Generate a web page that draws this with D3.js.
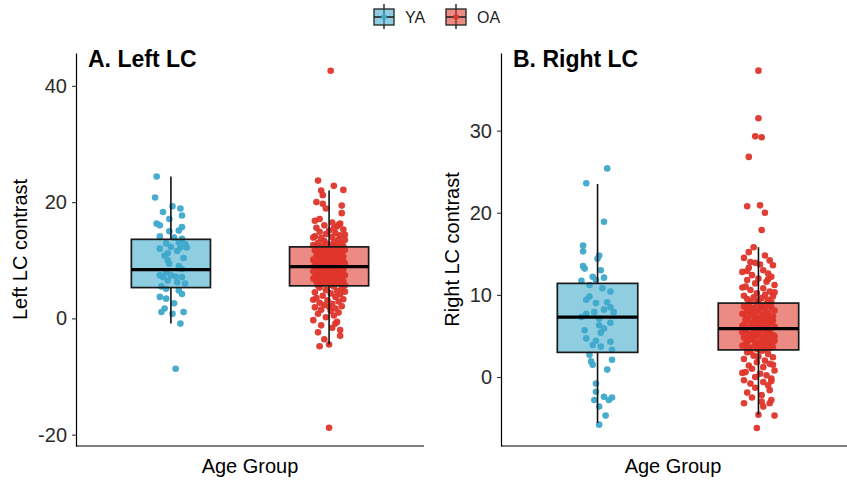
<!DOCTYPE html>
<html>
<head>
<meta charset="utf-8">
<script src="https://cdn.jsdelivr.net/npm/d3@7"></script>
<style>
body { margin: 0; background: #fff; }
text { font-family: "Liberation Sans", Arial, sans-serif; }
</style>
</head>
<body>
<svg width="847" height="480"></svg>
<script>
// groups and colours
var groups = ["YA", "OA"];
var pointColor = {YA: "#3ea8cc", OA: "#de352b"};

// box stats [lowWhisker, q1, median, q3, highWhisker]
var leftBox = {YA: [-0.9, 5.3, 8.4, 13.6, 24.4], OA: [-4.5, 5.6, 8.9, 12.3, 22.0]};
var rightBox = {YA: [-5.6, 3.0, 7.3, 11.4, 23.5], OA: [-4.6, 3.3, 5.9, 9.0, 15.8]};

// points [value, jitter]
var leftYA = [[24.4,-0.09],[20.8,-0.10],[19.3,0.01],[18.9,0.06],[18.3,-0.05],[17.7,0.07],[17.1,-0.01],[16.3,-0.09],[16.0,-0.07],[15.7,0.07],[15.1,0.05],[15.0,-0.01],[14.1,-0.07],[13.9,0.02],[13.7,0.07],[13.1,0.05],[12.8,0.09],[12.9,-0.03],[12.0,-0.07],[12.3,0.00],[12.2,0.06],[12.2,0.10],[11.6,0.04],[11.2,-0.02],[10.8,-0.04],[10.4,0.08],[10.0,-0.02],[9.4,-0.01],[9.0,0.05],[8.5,0.07],[7.9,-0.03],[7.4,-0.07],[7.1,-0.05],[7.4,0.00],[7.2,0.03],[7.1,0.07],[6.5,-0.02],[6.2,0.04],[6.0,0.09],[5.5,-0.06],[5.1,-0.03],[4.8,0.05],[4.2,0.07],[3.7,-0.07],[3.4,-0.03],[2.6,0.02],[1.7,-0.04],[1.1,-0.06],[0.8,0.01],[1.1,0.08],[-0.9,0.06],[-8.65,0.03]];

var leftOA = [[42.6,0.01],[23.7,-0.07],[22.8,0.03],[22.1,0.09],[22.0,-0.05],[21.2,-0.04],[20.0,-0.08],[19.7,-0.04],[19.4,0.08],[18.9,-0.02],[18.1,0.08],[17.1,-0.06],[16.3,0.07],
[16.8,-0.09],[16.5,0.02],[16.0,-0.03],[15.8,0.05],[15.6,-0.08],[15.3,0.09],[15.1,0.00],[14.9,-0.06],[14.7,0.04],[14.5,-0.02],[14.3,0.07],[14.1,-0.09],[14.0,0.02],[13.8,-0.05],[13.6,0.06],[13.5,0.10],[13.3,-0.03],[13.2,0.03],[13.0,-0.07],[12.9,0.08],[12.8,-0.01],[12.7,0.05],[12.6,-0.10],[12.5,0.01],[12.4,0.09],[12.4,-0.04],[12.3,0.04],[12.3,-0.08],[15.5,0.03],[14.4,0.10],[13.9,-0.10],[16.1,0.06],
[12.2,-0.06],[12.1,0.02],[12.0,0.07],[11.9,-0.02],[11.8,0.10],[11.7,-0.09],[11.6,0.04],[11.5,-0.04],[11.4,0.08],[11.3,-0.07],[11.2,0.00],[11.1,0.06],[11.0,-0.03],[10.9,0.03],[10.8,-0.08],[10.7,0.09],[10.6,-0.01],[10.5,0.05],[10.4,-0.05],[10.3,0.01],[10.2,0.08],[10.1,-0.10],[10.0,0.04],[9.9,-0.02],[9.8,0.07],[9.7,-0.07],[9.6,0.02],[9.5,-0.04],[9.4,0.10],[9.3,-0.09],[9.2,0.05],[9.1,-0.01],[9.0,0.03],[8.95,-0.06],[11.45,0.01],[10.65,-0.06],[9.85,0.09],[10.25,0.06],[11.85,-0.05],[9.25,-0.03],
[8.8,0.06],[8.7,-0.08],[8.6,0.01],[8.5,-0.03],[8.4,0.09],[8.3,-0.05],[8.2,0.04],[8.1,-0.10],[8.0,0.02],[7.9,0.07],[7.8,-0.02],[7.7,0.05],[7.6,-0.07],[7.5,0.00],[7.4,0.10],[7.3,-0.04],[7.2,0.03],[7.1,-0.09],[7.0,0.06],[6.9,-0.01],[6.8,0.08],[6.7,-0.06],[6.6,0.02],[6.5,-0.03],[6.4,0.09],[6.3,-0.08],[6.2,0.04],[6.1,-0.02],[6.0,0.07],[5.9,-0.05],[5.8,0.01],[5.7,0.10],[5.65,-0.07],[8.45,-0.01],[7.65,0.08],[6.85,-0.10],[7.95,-0.06],[6.15,0.06],[8.15,0.03],[7.25,-0.08],
[5.5,0.03],[5.3,-0.06],[5.1,0.08],[4.9,-0.02],[4.7,0.05],[4.5,-0.09],[4.3,0.01],[4.1,0.07],[3.9,-0.04],[3.7,0.04],[3.5,-0.08],[3.3,0.09],[3.1,-0.01],[2.9,0.06],[2.7,-0.06],[2.5,0.02],[2.3,-0.03],[2.1,0.08],[1.9,-0.09],[1.7,0.04],[1.5,-0.05],[1.3,0.01],[1.0,0.06],[0.8,-0.07],[0.5,0.03],[0.2,-0.02],[-0.3,-0.10],[-0.6,0.05],[-0.9,0.04],[-1.2,-0.05],[-1.6,0.02],[-2.0,0.07],[-2.4,-0.07],[-3.0,0.07],[-3.6,-0.03],[-4.5,0.00],[-4.8,-0.06],[4.6,0.10],[3.2,-0.10],[2.0,0.00],[-18.8,0.0]];

var rightYA = [[25.4,0.06],[23.6,-0.07],[18.9,0.04],[16.0,-0.09],[15.3,-0.09],[14.8,0.01],[14.4,0.00],[13.5,-0.09],[13.2,-0.08],[13.0,0.02],[12.2,-0.03],[12.1,0.04],[11.7,-0.10],[11.8,-0.01],[11.2,-0.05],[10.8,0.03],[10.4,0.08],[9.8,-0.05],[9.4,-0.07],[9.1,0.06],[9.0,-0.01],[8.5,0.08],[8.2,0.04],[7.9,-0.02],[7.7,-0.07],[7.3,-0.10],[7.9,0.10],[7.1,0.01],[6.6,0.08],[6.3,0.01],[5.9,0.04],[5.7,-0.08],[5.4,0.02],[4.7,-0.07],[4.4,-0.01],[4.3,0.08],[3.9,-0.03],[3.7,0.02],[3.3,0.09],[2.7,-0.05],[1.9,-0.04],[2.1,0.09],[1.5,-0.03],[0.9,0.06],[-0.8,-0.01],[-1.8,-0.01],[-2.8,-0.02],[-2.4,0.04],[-2.5,0.09],[-2.8,0.07],[-3.6,0.01],[-4.7,0.05],[-5.8,0.01]];

var rightOA = [[37.3,0.00],[31.5,0.00],[29.3,-0.02],[29.2,0.02],[26.8,-0.06],[20.8,-0.07],[20.9,0.01],[20.0,0.04],[17.9,0.02],
[15.8,-0.03],[15.2,-0.06],[14.8,0.04],[14.5,-0.09],[14.2,0.07],[13.9,-0.02],[13.6,0.09],[13.3,-0.06],[13.0,0.03],[12.8,-0.10],[12.6,0.06],[12.4,-0.04],[12.2,0.08],[12.0,0.00],[11.8,-0.07],[11.6,0.05],[11.4,-0.02],[11.2,0.10],[11.0,-0.08],[10.8,0.03],[10.6,-0.05],[10.4,0.07],[10.2,-0.01],[10.0,0.04],[9.9,-0.09],[9.8,0.09],[9.7,-0.03],[9.6,0.02],[9.5,-0.07],[9.4,0.06],[9.3,0.00],[9.2,-0.05],[9.1,0.08],[9.05,-0.01],[13.7,0.01],[12.9,-0.07],[11.9,0.06],[10.9,-0.10],[10.3,0.10],[14.0,-0.05],
[8.9,0.05],[8.8,-0.06],[8.7,0.02],[8.6,-0.09],[8.5,0.08],[8.4,-0.03],[8.3,0.04],[8.2,-0.07],[8.1,0.10],[8.0,0.00],[7.9,-0.04],[7.8,0.06],[7.7,-0.10],[7.6,0.03],[7.5,-0.02],[7.4,0.09],[7.3,-0.06],[7.2,0.01],[7.1,0.07],[7.0,-0.08],[6.9,0.04],[6.8,-0.01],[6.7,0.08],[6.6,-0.05],[6.5,0.02],[6.4,-0.09],[6.3,0.06],[6.2,-0.03],[6.1,0.10],[6.0,-0.07],[5.95,0.03],[8.45,0.01],[7.65,-0.08],[6.85,0.09],[7.35,0.05],[8.05,-0.05],[6.45,0.00],[7.05,-0.02],[8.65,0.07],[6.25,-0.10],
[5.8,0.04],[5.7,-0.08],[5.6,0.01],[5.5,0.07],[5.4,-0.03],[5.3,0.05],[5.2,-0.06],[5.1,0.09],[5.0,-0.01],[4.9,0.03],[4.8,-0.09],[4.7,0.06],[4.6,-0.04],[4.5,0.02],[4.4,0.10],[4.3,-0.07],[4.2,0.00],[4.1,0.05],[4.0,-0.02],[3.9,0.08],[3.8,-0.10],[3.7,0.03],[3.6,-0.05],[3.5,0.07],[3.4,-0.01],[3.35,0.04],[5.45,-0.10],[4.95,0.10],[4.55,-0.06],[4.05,-0.08],[3.65,0.09],[5.75,0.06],[5.25,0.00],[4.75,-0.03],[4.25,0.08],[3.85,0.01],[5.05,-0.05],[4.35,0.03],[3.45,-0.07],[5.55,-0.02],
[3.2,0.02],[3.0,-0.07],[2.8,0.06],[2.6,-0.03],[2.4,0.09],[2.2,-0.09],[2.0,0.04],[1.8,-0.01],[1.6,0.07],[1.4,-0.06],[1.2,0.03],[1.0,-0.04],[0.8,0.10],[0.6,-0.08],[0.4,0.01],[0.2,0.05],[0.0,-0.02],[-0.2,0.08],[-0.4,-0.09],[-0.6,0.03],[-0.8,-0.05],[-1.0,0.06],[-1.3,-0.02],[-1.6,0.07],[-1.9,-0.07],[-2.2,0.02],[-2.5,-0.04],[-2.8,0.08],[-3.0,0.02],[-3.2,-0.09],[-3.2,0.07],[-3.6,0.03],[-4.6,0.00],[-4.7,0.10],[-6.2,-0.01],[2.5,0.00],[1.5,0.09],[0.5,-0.10],[-0.5,0.08],[3.1,-0.05]];

var leftTicks = [-20, 0, 20, 40];
var rightTicks = [0, 10, 20, 30];

var svg = d3.select("svg");
svg.append("rect").attr("width", 847).attr("height", 480).attr("fill", "#fff");

var plotTop = 53, plotBottom = 446;

var panels = [
  {title: "A. Left LC", ylab: "Left LC contrast", x0: 76, x1: 424, domain: [-21.95, 45.65],
   ticks: leftTicks, box: leftBox, pts: {YA: leftYA, OA: leftOA}, lineEnd: 424, labX: 20},
  {title: "B. Right LC", ylab: "Right LC contrast", x0: 501, x1: 855, domain: [-8.4, 39.45],
   ticks: rightTicks, box: rightBox, pts: {YA: rightYA, OA: rightOA}, lineEnd: 847, labX: 452}
];

panels.forEach(function (p) {
  var g = svg.append("g");
  var x = d3.scalePoint().domain(groups).range([p.x0, p.x1]).padding(0.6);
  var y = d3.scaleLinear().domain(p.domain).range([plotBottom, plotTop]);
  var step = x.step();
  var bw = step * 0.5;

  // jittered points first
  groups.forEach(function (k) {
    g.append("g").selectAll("circle")
      .data(p.pts[k])
      .enter().append("circle")
      .attr("cx", function (d) { return x(k) + d[1] * step })
      .attr("cy", function (d) { return y(d[0]) })
      .attr("r", 3.3)
      .attr("fill", pointColor[k])
      .attr("fill-opacity", 0.95);
  });

  // boxes on top, semi transparent
  groups.forEach(function (k) {
    var s = p.box[k], cx = x(k);
    var bg = g.append("g");
    bg.append("line").attr("x1", cx).attr("x2", cx)
      .attr("y1", y(s[4])).attr("y2", y(s[3]))
      .attr("stroke", "#111").attr("stroke-width", 1.6);
    bg.append("line").attr("x1", cx).attr("x2", cx)
      .attr("y1", y(s[1])).attr("y2", y(s[0]))
      .attr("stroke", "#111").attr("stroke-width", 1.6);
    bg.append("rect").attr("x", cx - bw / 2).attr("width", bw)
      .attr("y", y(s[3])).attr("height", y(s[1]) - y(s[3]))
      .attr("fill", pointColor[k]).attr("fill-opacity", 0.58)
      .attr("stroke", "#1a1a1a").attr("stroke-width", 1.7);
    bg.append("line").attr("x1", cx - bw / 2).attr("x2", cx + bw / 2)
      .attr("y1", y(s[2])).attr("y2", y(s[2]))
      .attr("stroke", "#000").attr("stroke-width", 3.2);
  });

  // y axis
  var ya = g.append("g").attr("transform", "translate(" + p.x0 + ",0)")
    .call(d3.axisLeft(y).tickValues(p.ticks).tickFormat(function (d) { return String(d) })
      .tickSize(4).tickSizeOuter(0).tickPadding(5));
  ya.select(".domain").attr("stroke", "#000").attr("stroke-width", 1.2);
  ya.selectAll(".tick line").attr("stroke", "#333").attr("stroke-width", 1.1);
  ya.selectAll(".tick text").attr("font-size", 20).attr("fill", "#2b2b2b")
    .style("font-family", "'Liberation Sans', Arial, sans-serif");

  // x axis line
  g.append("line").attr("x1", p.x0).attr("x2", p.lineEnd)
    .attr("y1", plotBottom).attr("y2", plotBottom)
    .attr("stroke", "#000").attr("stroke-width", 1.2);

  g.append("text").attr("x", p.x0 + 12).attr("y", 67)
    .attr("font-size", 23).attr("font-weight", "bold").attr("fill", "#000")
    .text(p.title);

  g.append("text")
    .attr("transform", "translate(" + p.labX + "," + ((plotTop + plotBottom) / 2) + ") rotate(-90)")
    .attr("text-anchor", "middle").attr("dy", "0.35em")
    .attr("font-size", 20).attr("fill", "#000")
    .text(p.ylab);

  g.append("text").attr("x", (p.x0 + Math.min(p.x1, 845)) / 2).attr("y", 473)
    .attr("text-anchor", "middle").attr("font-size", 20).attr("fill", "#000")
    .text("Age Group");
});

// legend
var legendX = {YA: 374, OA: 446};
groups.forEach(function (k) {
  var lg = svg.append("g").attr("transform", "translate(" + legendX[k] + ",0)");
  lg.append("line").attr("x1", 10).attr("x2", 10).attr("y1", 4).attr("y2", 29)
    .attr("stroke", "#222").attr("stroke-width", 1.4);
  lg.append("rect").attr("x", 0).attr("y", 9).attr("width", 20).attr("height", 16)
    .attr("fill", pointColor[k]).attr("fill-opacity", 0.58)
    .attr("stroke", "#222").attr("stroke-width", 1.3);
  lg.append("line").attr("x1", 0).attr("x2", 20).attr("y1", 17).attr("y2", 17)
    .attr("stroke", "#222").attr("stroke-width", 1.6);
  lg.append("circle").attr("cx", 10).attr("cy", 17).attr("r", 2.8).attr("fill", pointColor[k]);
  lg.append("text").attr("x", 31).attr("y", 23).attr("font-size", 16).attr("fill", "#222").text(k);
});
</script>
</body>
</html>
